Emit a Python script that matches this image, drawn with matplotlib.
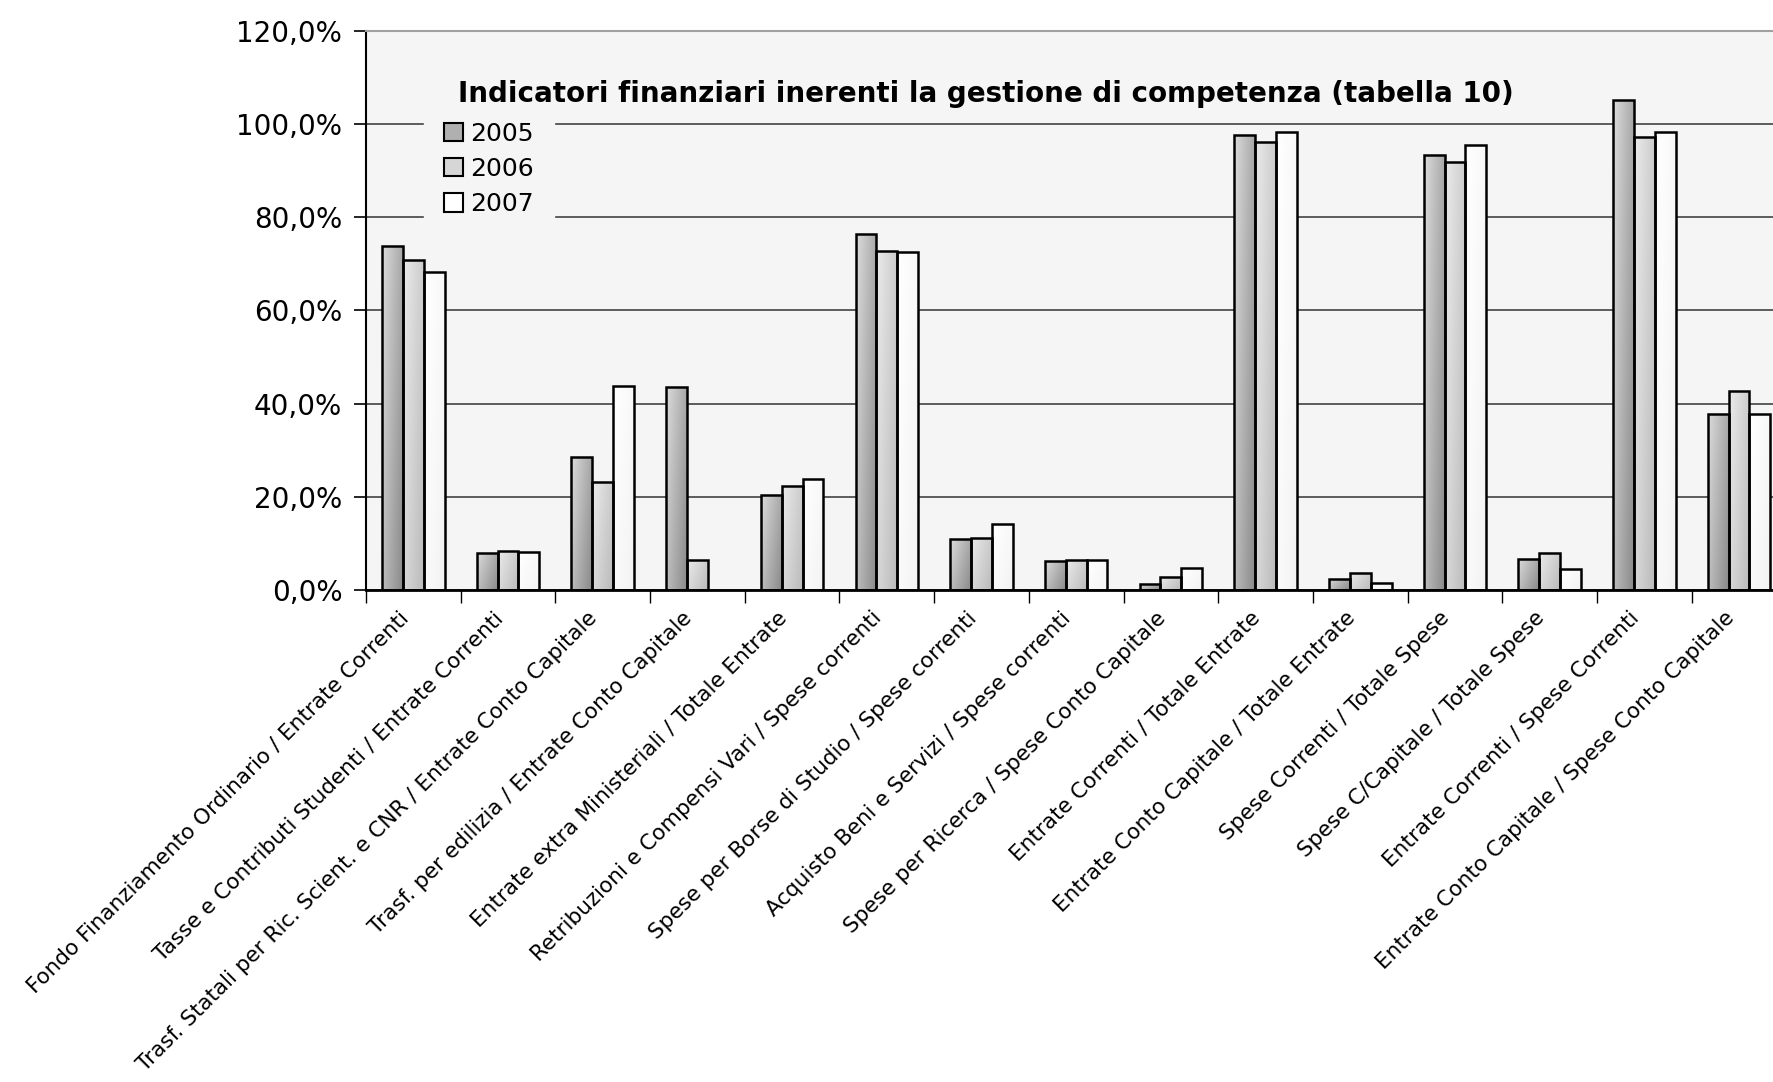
#### bar chart: indicatori finanziari (tabella 10)

import numpy as np
import matplotlib.pyplot as plt
import matplotlib.transforms as mtransforms
from matplotlib.patches import Patch
from matplotlib.ticker import FuncFormatter, FixedLocator

#### data ####

categories = ['Fondo Finanziamento Ordinario / Entrate Correnti',
              'Tasse e Contributi Studenti / Entrate Correnti',
              'Trasf. Statali per Ric. Scient. e CNR / Entrate Conto Capitale',
              'Trasf. per edilizia / Entrate Conto Capitale',
              'Entrate extra Ministeriali / Totale Entrate',
              'Retribuzioni e Compensi Vari / Spese correnti',
              'Spese per Borse di Studio / Spese correnti',
              'Acquisto Beni e Servizi / Spese correnti',
              'Spese per Ricerca / Spese Conto Capitale',
              'Entrate Correnti / Totale Entrate',
              'Entrate Conto Capitale / Totale Entrate',
              'Spese Correnti / Totale Spese',
              'Spese C/Capitale / Totale Spese',
              'Entrate Correnti / Spese Correnti',
              'Entrate Conto Capitale / Spese Conto Capitale']

years = ['2005', '2006', '2007']

val_2005 = [73.8, 8.0, 28.5, 43.6, 20.3, 76.3, 10.9, 6.3, 1.3, 97.5, 2.4, 93.3, 6.6, 105.1, 37.8]
val_2006 = [70.7, 8.4, 23.1, 6.4, 22.4, 72.7, 11.2, 6.4, 2.8, 96.1, 3.7, 91.7, 8.0, 97.2, 42.7]
val_2007 = [68.3, 8.1, 43.7, np.nan, 23.9, 72.4, 14.1, 6.4, 4.8, 98.2, 1.5, 95.5, 4.4, 98.2, 37.7]

title = 'Indicatori finanziari inerenti la gestione di competenza (tabella 10)'

#### figure ####

fig = plt.figure(figsize=(17.74, 10.82), dpi=100)
# axes run past the right edge of the figure, like the clipped original
ax = fig.add_axes([0.2063, 0.4547, 0.8007, 0.5171])
bg = '#f5f5f5'
ax.set_facecolor(bg)

x = np.arange(len(categories))
w = 0.22
series = [val_2005, val_2006, val_2007]

# gradient ranges (light top-left -> dark bottom-right) for each year
grad = [(0.86, 0.20, 0.12), (0.92, 0.12, 0.07), (1.0, 0.03, 0.02)]
solid = ['#b0b0b0', '#d6d6d6', '#ffffff']

gx, gy = np.meshgrid(np.linspace(0, 1, 40), np.linspace(0, 1, 80))

for k, vals in enumerate(series):
	bars = ax.bar(x + (k - 1) * w, vals, w, facecolor='none', edgecolor='black', linewidth=1.8, zorder=3)
	top, dx, dy = grad[k]
	img = np.clip(top - dx * gx - dy * gy, 0, 1)
	for b, v in zip(bars, vals):
		if np.isnan(v):
			continue
		x0 = b.get_x()
		im = ax.imshow(img, cmap='gray', vmin=0, vmax=1, aspect='auto', origin='upper',
		               extent=(x0, x0 + w, 0, v), zorder=2, interpolation='bilinear')
		im.set_clip_path(b)

ax.set_xlim(-0.5, len(categories) - 0.5)
ax.set_ylim(0, 120)

#### axes styling ####

ax.yaxis.set_major_locator(FixedLocator(np.arange(0, 121, 20)))
ax.yaxis.set_major_formatter(FuncFormatter(lambda v, p: ('%.1f%%' % v).replace('.', ',')))
ax.tick_params(axis='y', length=9, width=1.2, labelsize=20, pad=8)
ax.grid(axis='y', color='#333333', linewidth=1.1, zorder=1)
ax.set_axisbelow(True)

ax.set_xticks(x)
ax.set_xticklabels(categories, rotation=45, ha='right', va='center', rotation_mode='anchor', fontsize=15.5)
ax.tick_params(axis='x', which='major', length=0, pad=18)
ax.set_xticks(np.arange(-0.5, len(categories), 1), minor=True)
ax.tick_params(axis='x', which='minor', length=9, width=1.0)
# nudge the rotated labels a little to the left
shift = mtransforms.ScaledTranslation(-6 / 72, 0, fig.dpi_scale_trans)
for lab in ax.get_xticklabels():
	lab.set_transform(lab.get_transform() + shift)

ax.spines['left'].set_linewidth(1.5)
ax.spines['bottom'].set_linewidth(2.0)
ax.spines['top'].set_color('#a0a0a0')
ax.spines['top'].set_linewidth(1.5)
ax.spines['right'].set_visible(False)

#### legend ####

handles = [Patch(facecolor=solid[k], edgecolor='black', linewidth=1.5, label=years[k]) for k in range(3)]
leg = ax.legend(handles=handles, loc='upper left', bbox_to_anchor=(0.041, 0.873), fontsize=18,
                frameon=True, framealpha=1.0, fancybox=False, handlelength=0.75, handleheight=0.75,
                handletextpad=0.3, labelspacing=0.45, borderpad=0.8, borderaxespad=0)
leg.get_frame().set_facecolor(bg)
leg.get_frame().set_edgecolor(bg)
leg.set_zorder(4)

fig.text(0.556, 0.913, title, ha='center', va='center', fontsize=20, fontweight='bold')

fig.savefig('out.png', dpi=100)
